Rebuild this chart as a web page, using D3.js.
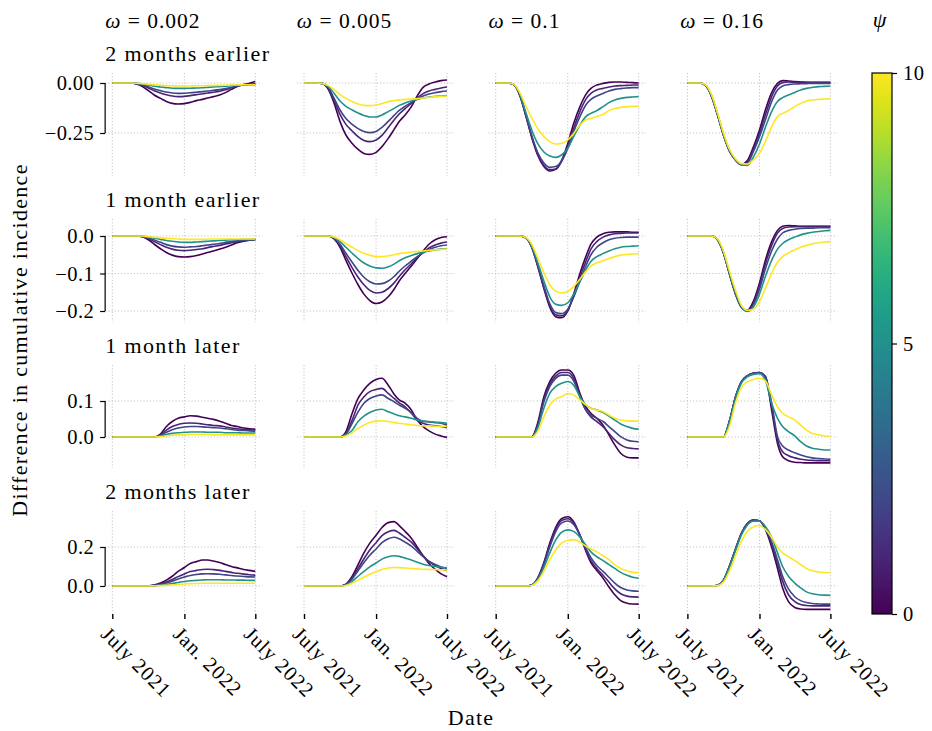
<!DOCTYPE html>
<html>
<head>
<meta charset="utf-8">
<script src="https://cdn.jsdelivr.net/npm/d3@7"></script>
<style>
  body { margin: 0; background: #ffffff; }
  svg text { font-family: "Liberation Serif", "DejaVu Serif", serif; fill: #000; }
</style>
</head>
<body>
<svg id="chart" width="932" height="731"></svg>
<script>
// Half-monthly sampling dates, July 2021 to July 2022
const dates = ["2021-07-01","2021-07-16","2021-08-01","2021-08-16","2021-09-01","2021-09-16",
  "2021-10-01","2021-10-16","2021-11-01","2021-11-16","2021-12-01","2021-12-16","2022-01-01",
  "2022-01-16","2022-02-01","2022-02-16","2022-03-01","2022-03-16","2022-04-01","2022-04-16",
  "2022-05-01","2022-05-16","2022-06-01","2022-06-16","2022-07-01"];

const psiValues = [0, 1, 2, 5, 10];
const psiTicks = [0, 5, 10];
const omegaLabels = ["0.002", "0.005", "0.1", "0.16"];
const shiftLabels = ["2 months earlier", "1 month earlier", "1 month later", "2 months later"];
const xTickDates = ["2021-07-01", "2022-01-01", "2022-07-01"];
const xTickLabels = ["July 2021", "Jan. 2022", "July 2022"];
const yTickValues = [[0, -0.25], [0, -0.1, -0.2], [0, 0.1], [0, 0.2]];
const yTickFormats = [".2f", ".1f", ".1f", ".1f"];
const yDomains = [[-0.465, 0.05], [-0.2293, 0.0453], [-0.0861, 0.2], [-0.1436, 0.3846]];

// Difference in cumulative incidence, one row per psi (0, 1, 2, 5, 10)
// 2 months earlier
const e2_002 = [
  [0,0,0,0,-0.005,-0.018,-0.038,-0.06,-0.077,-0.092,-0.102,-0.105,-0.103,-0.097,-0.088,-0.082,-0.075,-0.068,-0.06,-0.048,-0.032,-0.018,-0.008,-0.002,0.007],
  [0,0,0,0,-0.003,-0.012,-0.025,-0.039,-0.05,-0.059,-0.065,-0.068,-0.067,-0.063,-0.058,-0.054,-0.05,-0.046,-0.041,-0.034,-0.024,-0.015,-0.009,-0.006,-0.004],
  [0,0,0,0,-0.003,-0.009,-0.019,-0.03,-0.038,-0.045,-0.05,-0.052,-0.051,-0.049,-0.046,-0.043,-0.04,-0.037,-0.033,-0.028,-0.021,-0.014,-0.01,-0.008,-0.007],
  [0,0,0,0,-0.002,-0.005,-0.01,-0.016,-0.02,-0.023,-0.026,-0.027,-0.027,-0.026,-0.025,-0.024,-0.022,-0.02,-0.018,-0.016,-0.013,-0.011,-0.01,-0.009,-0.009],
  [0,0,0,0,-0.001,-0.003,-0.006,-0.009,-0.011,-0.013,-0.014,-0.015,-0.015,-0.015,-0.014,-0.014,-0.013,-0.012,-0.012,-0.011,-0.01,-0.01,-0.009,-0.009,-0.009]
];
const e2_005 = [
  [0,0,0,-0.002,-0.032,-0.102,-0.193,-0.26,-0.302,-0.332,-0.352,-0.357,-0.347,-0.318,-0.277,-0.232,-0.193,-0.16,-0.118,-0.065,-0.022,-0.005,0.005,0.012,0.015],
  [0,0,0,-0.002,-0.027,-0.088,-0.157,-0.207,-0.24,-0.268,-0.287,-0.293,-0.285,-0.262,-0.223,-0.185,-0.155,-0.128,-0.102,-0.075,-0.053,-0.04,-0.032,-0.025,-0.02],
  [0,0,0,-0.002,-0.023,-0.077,-0.135,-0.178,-0.207,-0.228,-0.242,-0.248,-0.242,-0.222,-0.192,-0.162,-0.137,-0.117,-0.097,-0.08,-0.065,-0.055,-0.048,-0.043,-0.04],
  [0,0,0,-0.002,-0.018,-0.052,-0.09,-0.117,-0.135,-0.15,-0.162,-0.17,-0.17,-0.16,-0.143,-0.127,-0.112,-0.1,-0.09,-0.082,-0.075,-0.07,-0.067,-0.065,-0.063],
  [0,0,0,-0.002,-0.013,-0.033,-0.058,-0.077,-0.093,-0.105,-0.112,-0.113,-0.11,-0.102,-0.093,-0.088,-0.085,-0.082,-0.08,-0.078,-0.075,-0.072,-0.068,-0.067,-0.065]
];
const e2_1 = [
  [0,0,0,-0.008,-0.065,-0.165,-0.272,-0.36,-0.418,-0.44,-0.432,-0.388,-0.302,-0.202,-0.118,-0.058,-0.027,-0.01,-0.002,0.003,0.005,0.005,0.003,0.002,0],
  [0,0,0,-0.008,-0.063,-0.162,-0.268,-0.355,-0.412,-0.433,-0.43,-0.393,-0.315,-0.227,-0.143,-0.082,-0.052,-0.035,-0.027,-0.02,-0.015,-0.013,-0.012,-0.01,-0.01],
  [0,0,0,-0.008,-0.062,-0.158,-0.262,-0.347,-0.4,-0.422,-0.418,-0.39,-0.327,-0.243,-0.168,-0.11,-0.082,-0.065,-0.052,-0.04,-0.032,-0.028,-0.025,-0.023,-0.023],
  [0,0,0,-0.007,-0.057,-0.148,-0.235,-0.302,-0.345,-0.365,-0.372,-0.36,-0.327,-0.268,-0.21,-0.168,-0.152,-0.138,-0.118,-0.098,-0.085,-0.077,-0.072,-0.07,-0.068],
  [0,0,0,-0.006,-0.05,-0.115,-0.175,-0.227,-0.268,-0.293,-0.305,-0.302,-0.285,-0.252,-0.21,-0.185,-0.177,-0.168,-0.157,-0.138,-0.127,-0.122,-0.118,-0.117,-0.115]
];
const e2_16 = [
  [0,0,0,-0.012,-0.068,-0.16,-0.26,-0.338,-0.385,-0.407,-0.388,-0.322,-0.235,-0.135,-0.048,-0.002,0.012,0.01,0.007,0.005,0.003,0.003,0.003,0.003,0.003],
  [0,0,0,-0.012,-0.068,-0.16,-0.26,-0.338,-0.385,-0.408,-0.395,-0.335,-0.252,-0.16,-0.068,-0.015,0.002,0.005,0.004,0.003,0.003,0.002,0.002,0.002,0.002],
  [0,0,0,-0.012,-0.068,-0.16,-0.26,-0.338,-0.386,-0.409,-0.402,-0.345,-0.268,-0.185,-0.093,-0.035,-0.015,-0.008,-0.005,-0.004,-0.003,-0.002,-0.002,-0.002,-0.002],
  [0,0,0,-0.011,-0.065,-0.156,-0.256,-0.335,-0.384,-0.41,-0.412,-0.372,-0.305,-0.222,-0.143,-0.093,-0.073,-0.06,-0.047,-0.035,-0.027,-0.022,-0.018,-0.017,-0.015],
  [0,0,0,-0.009,-0.06,-0.15,-0.25,-0.33,-0.38,-0.403,-0.405,-0.385,-0.352,-0.293,-0.218,-0.168,-0.152,-0.138,-0.118,-0.102,-0.09,-0.085,-0.082,-0.08,-0.078]
];
// 1 month earlier
const e1_002 = [
  [0,0,0,0,0,-0.002,-0.01,-0.022,-0.034,-0.044,-0.051,-0.055,-0.056,-0.055,-0.052,-0.048,-0.044,-0.04,-0.035,-0.03,-0.024,-0.018,-0.014,-0.011,-0.009],
  [0,0,0,0,0,-0.001,-0.007,-0.015,-0.023,-0.03,-0.035,-0.038,-0.039,-0.038,-0.036,-0.034,-0.031,-0.028,-0.025,-0.021,-0.018,-0.015,-0.012,-0.011,-0.01],
  [0,0,0,0,0,-0.001,-0.005,-0.011,-0.017,-0.023,-0.027,-0.029,-0.03,-0.029,-0.028,-0.026,-0.024,-0.022,-0.02,-0.017,-0.015,-0.013,-0.011,-0.01,-0.01],
  [0,0,0,0,0,-0.001,-0.003,-0.006,-0.009,-0.012,-0.014,-0.016,-0.017,-0.017,-0.016,-0.015,-0.014,-0.013,-0.012,-0.011,-0.01,-0.01,-0.009,-0.009,-0.009],
  [0,0,0,0,0,0,-0.002,-0.003,-0.005,-0.006,-0.007,-0.008,-0.009,-0.009,-0.009,-0.009,-0.008,-0.008,-0.008,-0.008,-0.008,-0.008,-0.008,-0.008,-0.008]
];
const e1_005 = [
  [0,0,0,0,0,-0.008,-0.03,-0.065,-0.1,-0.13,-0.155,-0.172,-0.18,-0.176,-0.162,-0.142,-0.12,-0.1,-0.08,-0.06,-0.04,-0.022,-0.01,-0.004,-0.002],
  [0,0,0,0,0,-0.007,-0.026,-0.055,-0.085,-0.11,-0.13,-0.145,-0.152,-0.15,-0.14,-0.125,-0.108,-0.09,-0.074,-0.058,-0.044,-0.032,-0.024,-0.019,-0.016],
  [0,0,0,0,0,-0.006,-0.022,-0.046,-0.07,-0.092,-0.11,-0.122,-0.128,-0.127,-0.12,-0.108,-0.094,-0.08,-0.067,-0.055,-0.045,-0.036,-0.03,-0.026,-0.024],
  [0,0,0,0,0,-0.004,-0.015,-0.03,-0.046,-0.06,-0.072,-0.08,-0.085,-0.086,-0.082,-0.075,-0.066,-0.058,-0.052,-0.047,-0.043,-0.04,-0.037,-0.035,-0.034],
  [0,0,0,0,0,-0.003,-0.01,-0.02,-0.03,-0.039,-0.046,-0.051,-0.055,-0.055,-0.053,-0.05,-0.047,-0.045,-0.043,-0.041,-0.04,-0.038,-0.037,-0.036,-0.035]
];
const e1_1 = [
  [0,0,0,0,0,-0.005,-0.03,-0.08,-0.14,-0.19,-0.215,-0.218,-0.2,-0.155,-0.1,-0.055,-0.022,-0.003,0.006,0.01,0.011,0.011,0.011,0.01,0.01],
  [0,0,0,0,0,-0.005,-0.03,-0.078,-0.137,-0.186,-0.21,-0.213,-0.198,-0.16,-0.11,-0.068,-0.035,-0.015,-0.003,0.003,0.006,0.007,0.008,0.008,0.008],
  [0,0,0,0,0,-0.005,-0.029,-0.076,-0.133,-0.18,-0.204,-0.207,-0.195,-0.163,-0.12,-0.08,-0.05,-0.03,-0.018,-0.01,-0.006,-0.004,-0.003,-0.003,-0.003],
  [0,0,0,0,0,-0.005,-0.027,-0.07,-0.12,-0.162,-0.182,-0.185,-0.178,-0.155,-0.122,-0.09,-0.068,-0.055,-0.047,-0.04,-0.034,-0.03,-0.028,-0.027,-0.026],
  [0,0,0,0,0,-0.004,-0.022,-0.058,-0.098,-0.13,-0.147,-0.152,-0.148,-0.135,-0.115,-0.095,-0.08,-0.072,-0.066,-0.06,-0.055,-0.051,-0.049,-0.048,-0.047]
];
const e1_16 = [
  [0,0,0,0,0,-0.01,-0.045,-0.1,-0.155,-0.19,-0.198,-0.175,-0.125,-0.065,-0.015,0.015,0.026,0.028,0.027,0.026,0.026,0.026,0.026,0.026,0.026],
  [0,0,0,0,0,-0.01,-0.045,-0.1,-0.155,-0.19,-0.2,-0.18,-0.133,-0.075,-0.025,0.008,0.02,0.024,0.025,0.025,0.025,0.025,0.025,0.025,0.025],
  [0,0,0,0,0,-0.01,-0.045,-0.1,-0.155,-0.19,-0.2,-0.185,-0.142,-0.088,-0.04,-0.008,0.008,0.015,0.018,0.02,0.021,0.021,0.022,0.022,0.022],
  [0,0,0,0,0,-0.01,-0.044,-0.098,-0.152,-0.189,-0.201,-0.19,-0.155,-0.108,-0.065,-0.035,-0.02,-0.01,-0.003,0.003,0.007,0.01,0.012,0.014,0.015],
  [0,0,0,0,0,-0.008,-0.04,-0.092,-0.145,-0.185,-0.198,-0.195,-0.175,-0.14,-0.1,-0.07,-0.055,-0.045,-0.037,-0.03,-0.025,-0.021,-0.018,-0.016,-0.015]
];
// 1 month later
const l1_002 = [
  [0,0,0,0,0,0,0,0,0.008,0.029,0.043,0.052,0.056,0.059,0.058,0.055,0.052,0.049,0.044,0.038,0.032,0.029,0.025,0.023,0.022],
  [0,0,0,0,0,0,0,0,0.006,0.019,0.029,0.035,0.038,0.039,0.038,0.036,0.034,0.032,0.031,0.028,0.025,0.023,0.021,0.02,0.019],
  [0,0,0,0,0,0,0,0,0.004,0.013,0.02,0.025,0.028,0.029,0.029,0.028,0.027,0.026,0.025,0.023,0.021,0.019,0.018,0.017,0.016],
  [0,0,0,0,0,0,0,0,0.002,0.007,0.01,0.012,0.013,0.014,0.014,0.014,0.013,0.013,0.013,0.012,0.012,0.012,0.011,0.011,0.011],
  [0,0,0,0,0,0,0,0,0.001,0.003,0.005,0.006,0.006,0.007,0.007,0.007,0.007,0.006,0.006,0.006,0.006,0.006,0.006,0.006,0.006]
];
const l1_005 = [
  [0,0,0,0,0,0,0,0.015,0.066,0.107,0.131,0.149,0.16,0.163,0.144,0.119,0.103,0.094,0.075,0.047,0.029,0.017,0.008,0.003,-0.001],
  [0,0,0,0,0,0,0,0.01,0.047,0.089,0.112,0.126,0.132,0.135,0.121,0.107,0.095,0.084,0.066,0.047,0.038,0.033,0.031,0.029,0.026],
  [0,0,0,0,0,0,0,0.008,0.038,0.07,0.094,0.107,0.114,0.117,0.107,0.098,0.089,0.08,0.068,0.052,0.044,0.042,0.04,0.038,0.033],
  [0,0,0,0,0,0,0,0.006,0.019,0.043,0.058,0.068,0.075,0.077,0.07,0.064,0.059,0.056,0.052,0.047,0.044,0.043,0.041,0.04,0.038],
  [0,0,0,0,0,0,0,0.003,0.012,0.024,0.033,0.04,0.044,0.045,0.043,0.04,0.038,0.036,0.034,0.032,0.031,0.031,0.03,0.029,0.029]
];
const l1_1 = [
  [0,0,0,0,0,0,0,0.038,0.112,0.154,0.177,0.186,0.186,0.172,0.121,0.084,0.066,0.052,0.033,0.006,-0.022,-0.045,-0.056,-0.058,-0.058],
  [0,0,0,0,0,0,0,0.033,0.105,0.147,0.169,0.179,0.179,0.163,0.112,0.075,0.056,0.043,0.029,0.01,-0.008,-0.022,-0.03,-0.032,-0.033],
  [0,0,0,0,0,0,0,0.029,0.098,0.14,0.163,0.172,0.172,0.156,0.112,0.075,0.061,0.052,0.043,0.029,0.015,0.001,-0.008,-0.012,-0.013],
  [0,0,0,0,0,0,0,0.024,0.08,0.121,0.14,0.149,0.154,0.144,0.112,0.089,0.08,0.075,0.068,0.058,0.047,0.036,0.029,0.024,0.022],
  [0,0,0,0,0,0,0,0.015,0.056,0.089,0.105,0.112,0.121,0.117,0.103,0.089,0.08,0.075,0.07,0.061,0.052,0.047,0.045,0.044,0.044]
];
const l1_16 = [
  [0,0,0,0,0,0,0,0.043,0.112,0.154,0.17,0.177,0.179,0.168,0.075,-0.018,-0.055,-0.066,-0.07,-0.071,-0.072,-0.072,-0.072,-0.072,-0.072],
  [0,0,0,0,0,0,0,0.043,0.112,0.154,0.17,0.177,0.179,0.168,0.085,-0.008,-0.041,-0.052,-0.058,-0.062,-0.064,-0.065,-0.066,-0.066,-0.066],
  [0,0,0,0,0,0,0,0.043,0.112,0.154,0.17,0.177,0.178,0.167,0.095,0.001,-0.025,-0.036,-0.044,-0.05,-0.055,-0.058,-0.06,-0.061,-0.062],
  [0,0,0,0,0,0,0,0.04,0.108,0.15,0.167,0.174,0.176,0.158,0.094,0.052,0.029,0.015,0.003,-0.013,-0.025,-0.031,-0.034,-0.036,-0.036],
  [0,0,0,0,0,0,0,0.029,0.095,0.138,0.153,0.16,0.163,0.156,0.117,0.084,0.066,0.056,0.047,0.033,0.019,0.01,0.006,0.003,0.002]
];
// 2 months later
const l2_002 = [
  [0,0,0,0,0,0,0,0.005,0.015,0.03,0.05,0.075,0.095,0.115,0.125,0.133,0.133,0.128,0.12,0.11,0.1,0.093,0.085,0.08,0.075],
  [0,0,0,0,0,0,0,0.003,0.01,0.02,0.033,0.048,0.062,0.074,0.08,0.085,0.086,0.084,0.08,0.075,0.07,0.065,0.061,0.058,0.056],
  [0,0,0,0,0,0,0,0.002,0.008,0.015,0.025,0.036,0.046,0.054,0.059,0.062,0.063,0.062,0.06,0.057,0.054,0.051,0.049,0.047,0.046],
  [0,0,0,0,0,0,0,0.001,0.004,0.008,0.013,0.018,0.023,0.027,0.029,0.031,0.032,0.032,0.032,0.031,0.031,0.03,0.03,0.029,0.029],
  [0,0,0,0,0,0,0,0.001,0.002,0.004,0.006,0.008,0.01,0.012,0.013,0.014,0.014,0.014,0.014,0.014,0.014,0.014,0.014,0.014,0.014]
];
const l2_005 = [
  [0,0,0,0,0,0,0,0.01,0.05,0.11,0.17,0.22,0.26,0.3,0.325,0.33,0.31,0.28,0.245,0.2,0.155,0.115,0.085,0.062,0.048],
  [0,0,0,0,0,0,0,0.008,0.042,0.09,0.14,0.185,0.222,0.258,0.278,0.285,0.272,0.25,0.225,0.19,0.155,0.125,0.105,0.09,0.08],
  [0,0,0,0,0,0,0,0.007,0.036,0.078,0.12,0.158,0.19,0.222,0.242,0.25,0.242,0.225,0.205,0.178,0.15,0.127,0.11,0.098,0.09],
  [0,0,0,0,0,0,0,0.005,0.024,0.05,0.075,0.098,0.118,0.138,0.15,0.155,0.152,0.143,0.133,0.122,0.112,0.105,0.1,0.096,0.093],
  [0,0,0,0,0,0,0,0.003,0.015,0.03,0.045,0.06,0.073,0.085,0.092,0.095,0.094,0.092,0.09,0.088,0.086,0.085,0.084,0.083,0.082]
];
const l2_1 = [
  [0,0,0,0,0,0,0.005,0.04,0.12,0.22,0.3,0.345,0.355,0.33,0.26,0.18,0.12,0.08,0.04,-0.005,-0.045,-0.075,-0.088,-0.092,-0.093],
  [0,0,0,0,0,0,0.005,0.038,0.115,0.21,0.29,0.335,0.345,0.322,0.26,0.185,0.13,0.09,0.055,0.02,-0.015,-0.04,-0.052,-0.056,-0.057],
  [0,0,0,0,0,0,0.005,0.036,0.11,0.2,0.278,0.322,0.333,0.315,0.26,0.195,0.145,0.105,0.075,0.045,0.015,-0.008,-0.02,-0.025,-0.027],
  [0,0,0,0,0,0,0.004,0.032,0.095,0.17,0.235,0.275,0.288,0.28,0.25,0.21,0.175,0.15,0.13,0.11,0.09,0.07,0.055,0.045,0.04],
  [0,0,0,0,0,0,0.003,0.025,0.075,0.135,0.185,0.22,0.235,0.238,0.225,0.205,0.19,0.175,0.155,0.135,0.11,0.09,0.078,0.07,0.068]
];
const l2_16 = [
  [0,0,0,0,0,0.004,0.03,0.1,0.19,0.27,0.32,0.338,0.335,0.29,0.2,0.09,-0.01,-0.08,-0.11,-0.118,-0.12,-0.12,-0.12,-0.12,-0.12],
  [0,0,0,0,0,0.004,0.03,0.1,0.19,0.27,0.32,0.338,0.335,0.295,0.215,0.115,0.025,-0.045,-0.08,-0.095,-0.1,-0.102,-0.102,-0.102,-0.102],
  [0,0,0,0,0,0.004,0.03,0.1,0.19,0.27,0.32,0.337,0.335,0.298,0.225,0.135,0.05,-0.015,-0.055,-0.075,-0.085,-0.09,-0.092,-0.093,-0.093],
  [0,0,0,0,0,0.003,0.028,0.095,0.183,0.262,0.312,0.332,0.332,0.305,0.25,0.17,0.1,0.05,0.015,-0.01,-0.03,-0.04,-0.045,-0.047,-0.048],
  [0,0,0,0,0,0.002,0.02,0.075,0.155,0.23,0.28,0.303,0.31,0.29,0.25,0.2,0.17,0.15,0.13,0.11,0.09,0.078,0.072,0.069,0.068]
];

const panels = [
  [e2_002, e2_005, e2_1, e2_16],
  [e1_002, e1_005, e1_1, e1_16],
  [l1_002, l1_005, l1_1, l1_16],
  [l2_002, l2_005, l2_1, l2_16]
];

// ---- layout ----
const FONT = 22;
const FAMILY = "'Liberation Serif', 'DejaVu Serif', serif";
const plotW = 143;           // width spanned by the date range
const pad = plotW * 0.05;    // axes margin on both sides
const colStart = 112.3, colStep = 191.7;
const rowTop0 = 73, rowStep = 146, rowH = 103;

const parse = d3.timeParse("%Y-%m-%d");
const T = dates.map(parse);
const tickT = xTickDates.map(parse);
const color = d3.scaleSequential(d3.interpolateViridis).domain([0, 10]);

const svg = d3.select("#chart");
svg.append("rect").attr("width", 932).attr("height", 731).attr("fill", "#fff");

function styleText(sel, size, spacing) {
  sel.attr("font-family", FAMILY).style("font-family", FAMILY)
     .attr("font-size", size).attr("letter-spacing", spacing == null ? "1px" : spacing)
     .attr("fill", "#000");
}

panels.forEach((row, r) => {
  const top = rowTop0 + r * rowStep;
  const y = d3.scaleLinear().domain(yDomains[r]).range([top + rowH, top]);

  row.forEach((series, c) => {
    const x0 = colStart + c * colStep;
    const x = d3.scaleTime().domain([T[0], T[T.length - 1]]).range([x0, x0 + plotW]);
    const left = x0 - pad, right = x0 + plotW + pad;
    const g = svg.append("g");

    // dotted grid
    g.selectAll("line.vg").data(tickT).join("line")
      .attr("x1", d => x(d)).attr("x2", d => x(d))
      .attr("y1", top).attr("y2", top + rowH)
      .attr("stroke", "#c4c4c4").attr("stroke-width", 1).attr("stroke-dasharray", "1.2,2");
    g.selectAll("line.hg").data(yTickValues[r]).join("line")
      .attr("x1", left).attr("x2", right)
      .attr("y1", d => y(d)).attr("y2", d => y(d))
      .attr("stroke", "#c4c4c4").attr("stroke-width", 1).attr("stroke-dasharray", "1.2,2");

    // one curve per psi
    const line = d3.line().x((d, i) => x(T[i])).y(d => y(d)).curve(d3.curveMonotoneX);
    g.selectAll("path.psi").data(series).join("path")
      .attr("d", line).attr("fill", "none")
      .attr("stroke", (d, i) => color(psiValues[i]))
      .attr("stroke-width", 1.6).attr("stroke-linejoin", "round");

    // left axis on first column
    if (c === 0) {
      const ax = d3.axisLeft(y).tickValues(yTickValues[r])
        .tickFormat(d3.format(yTickFormats[r])).tickSize(5).tickPadding(6);
      const ga = g.append("g").attr("transform", `translate(${left},0)`).call(ax);
      ga.select(".domain").remove();
      ga.selectAll(".tick line").attr("stroke", "#000").attr("stroke-width", 1.2);
      ga.attr("font-family", null).attr("font-size", null);
      styleText(ga.selectAll(".tick text"), FONT - 1.5, "0.4px");
      const ext = d3.extent(yTickValues[r]);
      ga.append("line").attr("x1", 0).attr("x2", 0)
        .attr("y1", y(ext[0])).attr("y2", y(ext[1]))
        .attr("stroke", "#000").attr("stroke-width", 1.2);

      styleText(svg.append("text").attr("x", left).attr("y", top - 12.5)
        .text(shiftLabels[r]), FONT, "1.4px");
    }

    // column headers
    if (r === 0) {
      const t = svg.append("text").attr("x", left).attr("y", 28);
      styleText(t, FONT - 0.5, "1px");
      t.append("tspan").attr("font-style", "italic").text("ω");
      t.append("tspan").text(" = " + omegaLabels[c]);
    }

    // date axis on last row
    if (r === panels.length - 1) {
      const ax = d3.axisBottom(x).tickValues(tickT)
        .tickFormat((d, i) => xTickLabels[i]).tickSize(5);
      const ga = g.append("g").attr("transform", `translate(0,${top + rowH})`).call(ax);
      ga.select(".domain").remove();
      ga.attr("font-family", null).attr("font-size", null);
      ga.selectAll(".tick line").attr("stroke", "#000").attr("stroke-width", 1.4);
      const tt = ga.selectAll(".tick text");
      styleText(tt, FONT - 1.5, "1px");
      tt.attr("x", null).attr("y", null).attr("dy", null)
        .attr("text-anchor", "start")
        .attr("transform", "translate(-13,21.5) rotate(45)");
    }
  });
});

// axis titles
styleText(svg.append("text").attr("x", 471).attr("y", 725)
  .attr("text-anchor", "middle").text("Date"), FONT, "1.2px");
styleText(svg.append("text").attr("transform", "translate(27,340) rotate(-90)")
  .attr("text-anchor", "middle").text("Difference in cumulative incidence"), FONT, "1.3px");

// colour bar for psi
const cbX = 872, cbW = 20, cbTop = 73, cbBottom = 614;
const grad = svg.append("defs").append("linearGradient").attr("id", "psiGrad")
  .attr("x1", 0).attr("y1", 1).attr("x2", 0).attr("y2", 0);
d3.range(0, 1.0001, 0.05).forEach(t => {
  grad.append("stop").attr("offset", t).attr("stop-color", d3.interpolateViridis(t));
});
svg.append("rect").attr("x", cbX).attr("y", cbTop).attr("width", cbW)
  .attr("height", cbBottom - cbTop).attr("fill", "url(#psiGrad)")
  .attr("stroke", "#000").attr("stroke-width", 1.2);
const cbScale = d3.scaleLinear().domain([0, 10]).range([cbBottom, cbTop]);
const cbAxis = svg.append("g").attr("transform", `translate(${cbX + cbW},0)`)
  .call(d3.axisRight(cbScale).tickValues(psiTicks).tickSize(5).tickPadding(6));
cbAxis.select(".domain").remove();
cbAxis.attr("font-family", null).attr("font-size", null);
cbAxis.selectAll(".tick line").attr("stroke", "#000").attr("stroke-width", 1.2);
styleText(cbAxis.selectAll(".tick text"), FONT - 1.5, "0.5px");
const psiT = svg.append("text").attr("x", 880).attr("y", 27).attr("text-anchor", "middle")
  .attr("font-style", "italic").text("ψ");
styleText(psiT, FONT);
</script>
</body>
</html>
